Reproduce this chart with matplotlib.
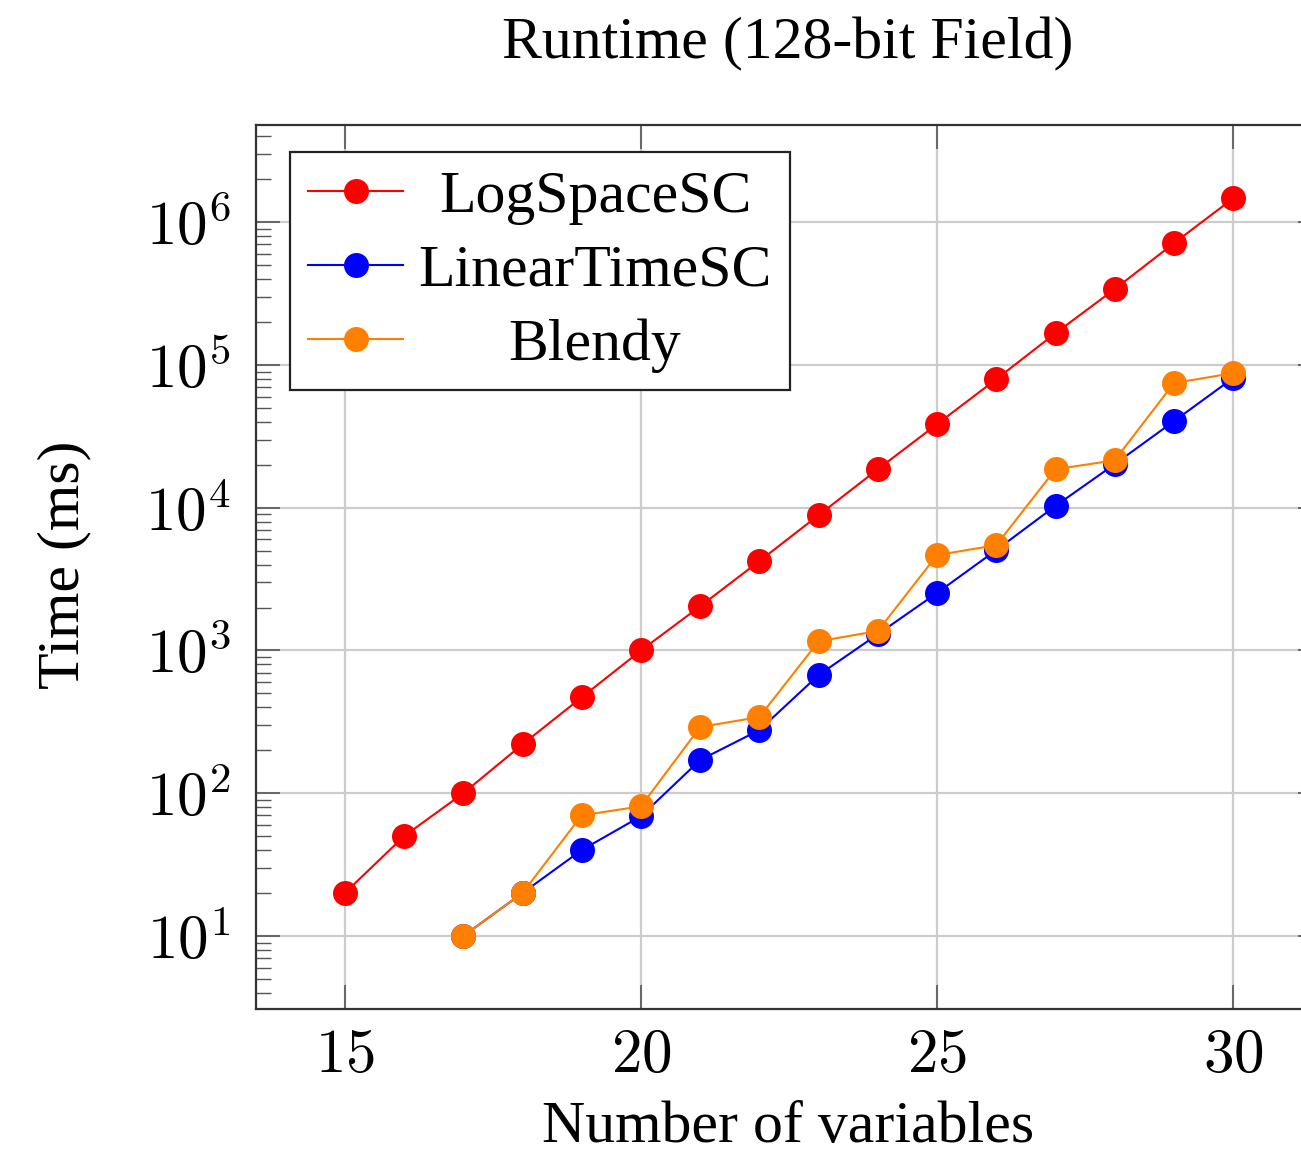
import math
import matplotlib
matplotlib.use("Agg")
import matplotlib.pyplot as plt
from matplotlib.ticker import FixedLocator, FuncFormatter, NullFormatter

x_log = [15, 16, 17, 18, 19, 20, 21, 22, 23, 24, 25, 26, 27, 28, 29, 30]
log_space = [20, 50, 100, 220, 470, 1000, 2040, 4230, 8870, 18600, 38500,
             79500, 167000, 340000, 713000, 1470000]
x_lin = [17, 18, 19, 20, 21, 22, 23, 24, 25, 26, 27, 28, 29, 30]
linear_time = [10, 20, 40, 69, 171, 277, 673, 1300, 2530, 5050, 10300,
               20200, 40400, 81000]
blendy = [10, 20, 70, 81, 291, 342, 1160, 1370, 4660, 5470, 18600,
          21500, 74700, 87700]
x_ticks = [15, 20, 25, 30]
y_exponents = [1, 2, 3, 4, 5, 6]

plt.rcParams['mathtext.fontset'] = 'cm'
serif = ['Liberation Serif', 'DejaVu Serif']
FS = 43
TFS = 44

W, H = 1301, 1161
fig = plt.figure(figsize=(W / 100, H / 100), dpi=100)
left, right, bottom, top = 256, 1322, 1009, 125
ax = fig.add_axes([left / W, 1 - bottom / H, (right - left) / W, (bottom - top) / H])

ax.plot(x_log, log_space, color=(1, 0, 0), lw=1.5, marker='o', ms=18,
        markeredgewidth=0, label='LogSpaceSC', zorder=3)
ax.plot(x_lin, linear_time, color=(0, 0, 1), lw=1.5, marker='o', ms=18,
        markeredgewidth=0, label='LinearTimeSC', zorder=4)
ax.plot(x_lin, blendy, color=(1, 0.5, 0), lw=1.5, marker='o', ms=18,
        markeredgewidth=0, label='Blendy', zorder=5)

ax.set_yscale('log')
ax.set_xlim(13.5, 31.5)
ax.set_ylim(3.08, 4.8e6)

ax.xaxis.set_major_locator(FixedLocator(x_ticks))
ax.xaxis.set_major_formatter(FuncFormatter(lambda v, p: r'$%d$' % v))
major_y = [10.0 ** e for e in y_exponents]
minor_y = [m * 10.0 ** e for e in [0] + y_exponents for m in range(2, 10)
           if 3.08 <= m * 10.0 ** e <= 4.8e6]
ax.yaxis.set_major_locator(FixedLocator(major_y))
ax.yaxis.set_minor_locator(FixedLocator(minor_y))
ax.yaxis.set_major_formatter(FuncFormatter(lambda v, p: r'$10^{%d}$' % round(math.log10(v))))
ax.yaxis.set_minor_formatter(NullFormatter())

ax.tick_params(axis='both', which='major', direction='in', length=17, width=1.2,
               color='#555555', labelsize=TFS, top=True, right=True)
ax.tick_params(axis='y', which='minor', direction='in', length=11, width=1.0,
               color='#555555', right=True)
ax.tick_params(axis='x', which='major', pad=12)
ax.tick_params(axis='y', which='major', pad=18)

ax.grid(True, which='major', color='#cccccc', lw=1.6)
ax.set_axisbelow(True)
for s in ax.spines.values():
    s.set_color('#333333')
    s.set_linewidth(1.6)

fig.text(788 / W, 1 - 44 / H, 'Runtime (128-bit Field)', ha='center', va='center',
         fontsize=FS, family=serif)
fig.text(788 / W, 1 - 1128 / H, 'Number of variables', ha='center', va='center',
         fontsize=FS, family=serif)
fig.text(64 / W, 1 - 565 / H, 'Time (ms)', ha='center', va='center', rotation=90,
         fontsize=FS, family=serif)

leg = ax.legend(loc='upper left', bbox_to_anchor=((290 - left) / (right - left), (bottom - 152) / (bottom - top)),
                borderaxespad=0, prop={'family': serif, 'size': FS}, frameon=True,
                fancybox=False, edgecolor='#222222', framealpha=1, handlelength=1.6,
                handletextpad=0.25, labelspacing=0.32, borderpad=0.3)
leg.get_frame().set_linewidth(1.6)

fig.canvas.draw()
r = fig.canvas.get_renderer()
texts = leg.get_texts()
ws = [t.get_window_extent(r).width for t in texts]
mw = max(ws)
for t, w in zip(texts, ws):
    t.set_position(((mw - w) / 2, 0))

fig.savefig('out.png', dpi=100)
